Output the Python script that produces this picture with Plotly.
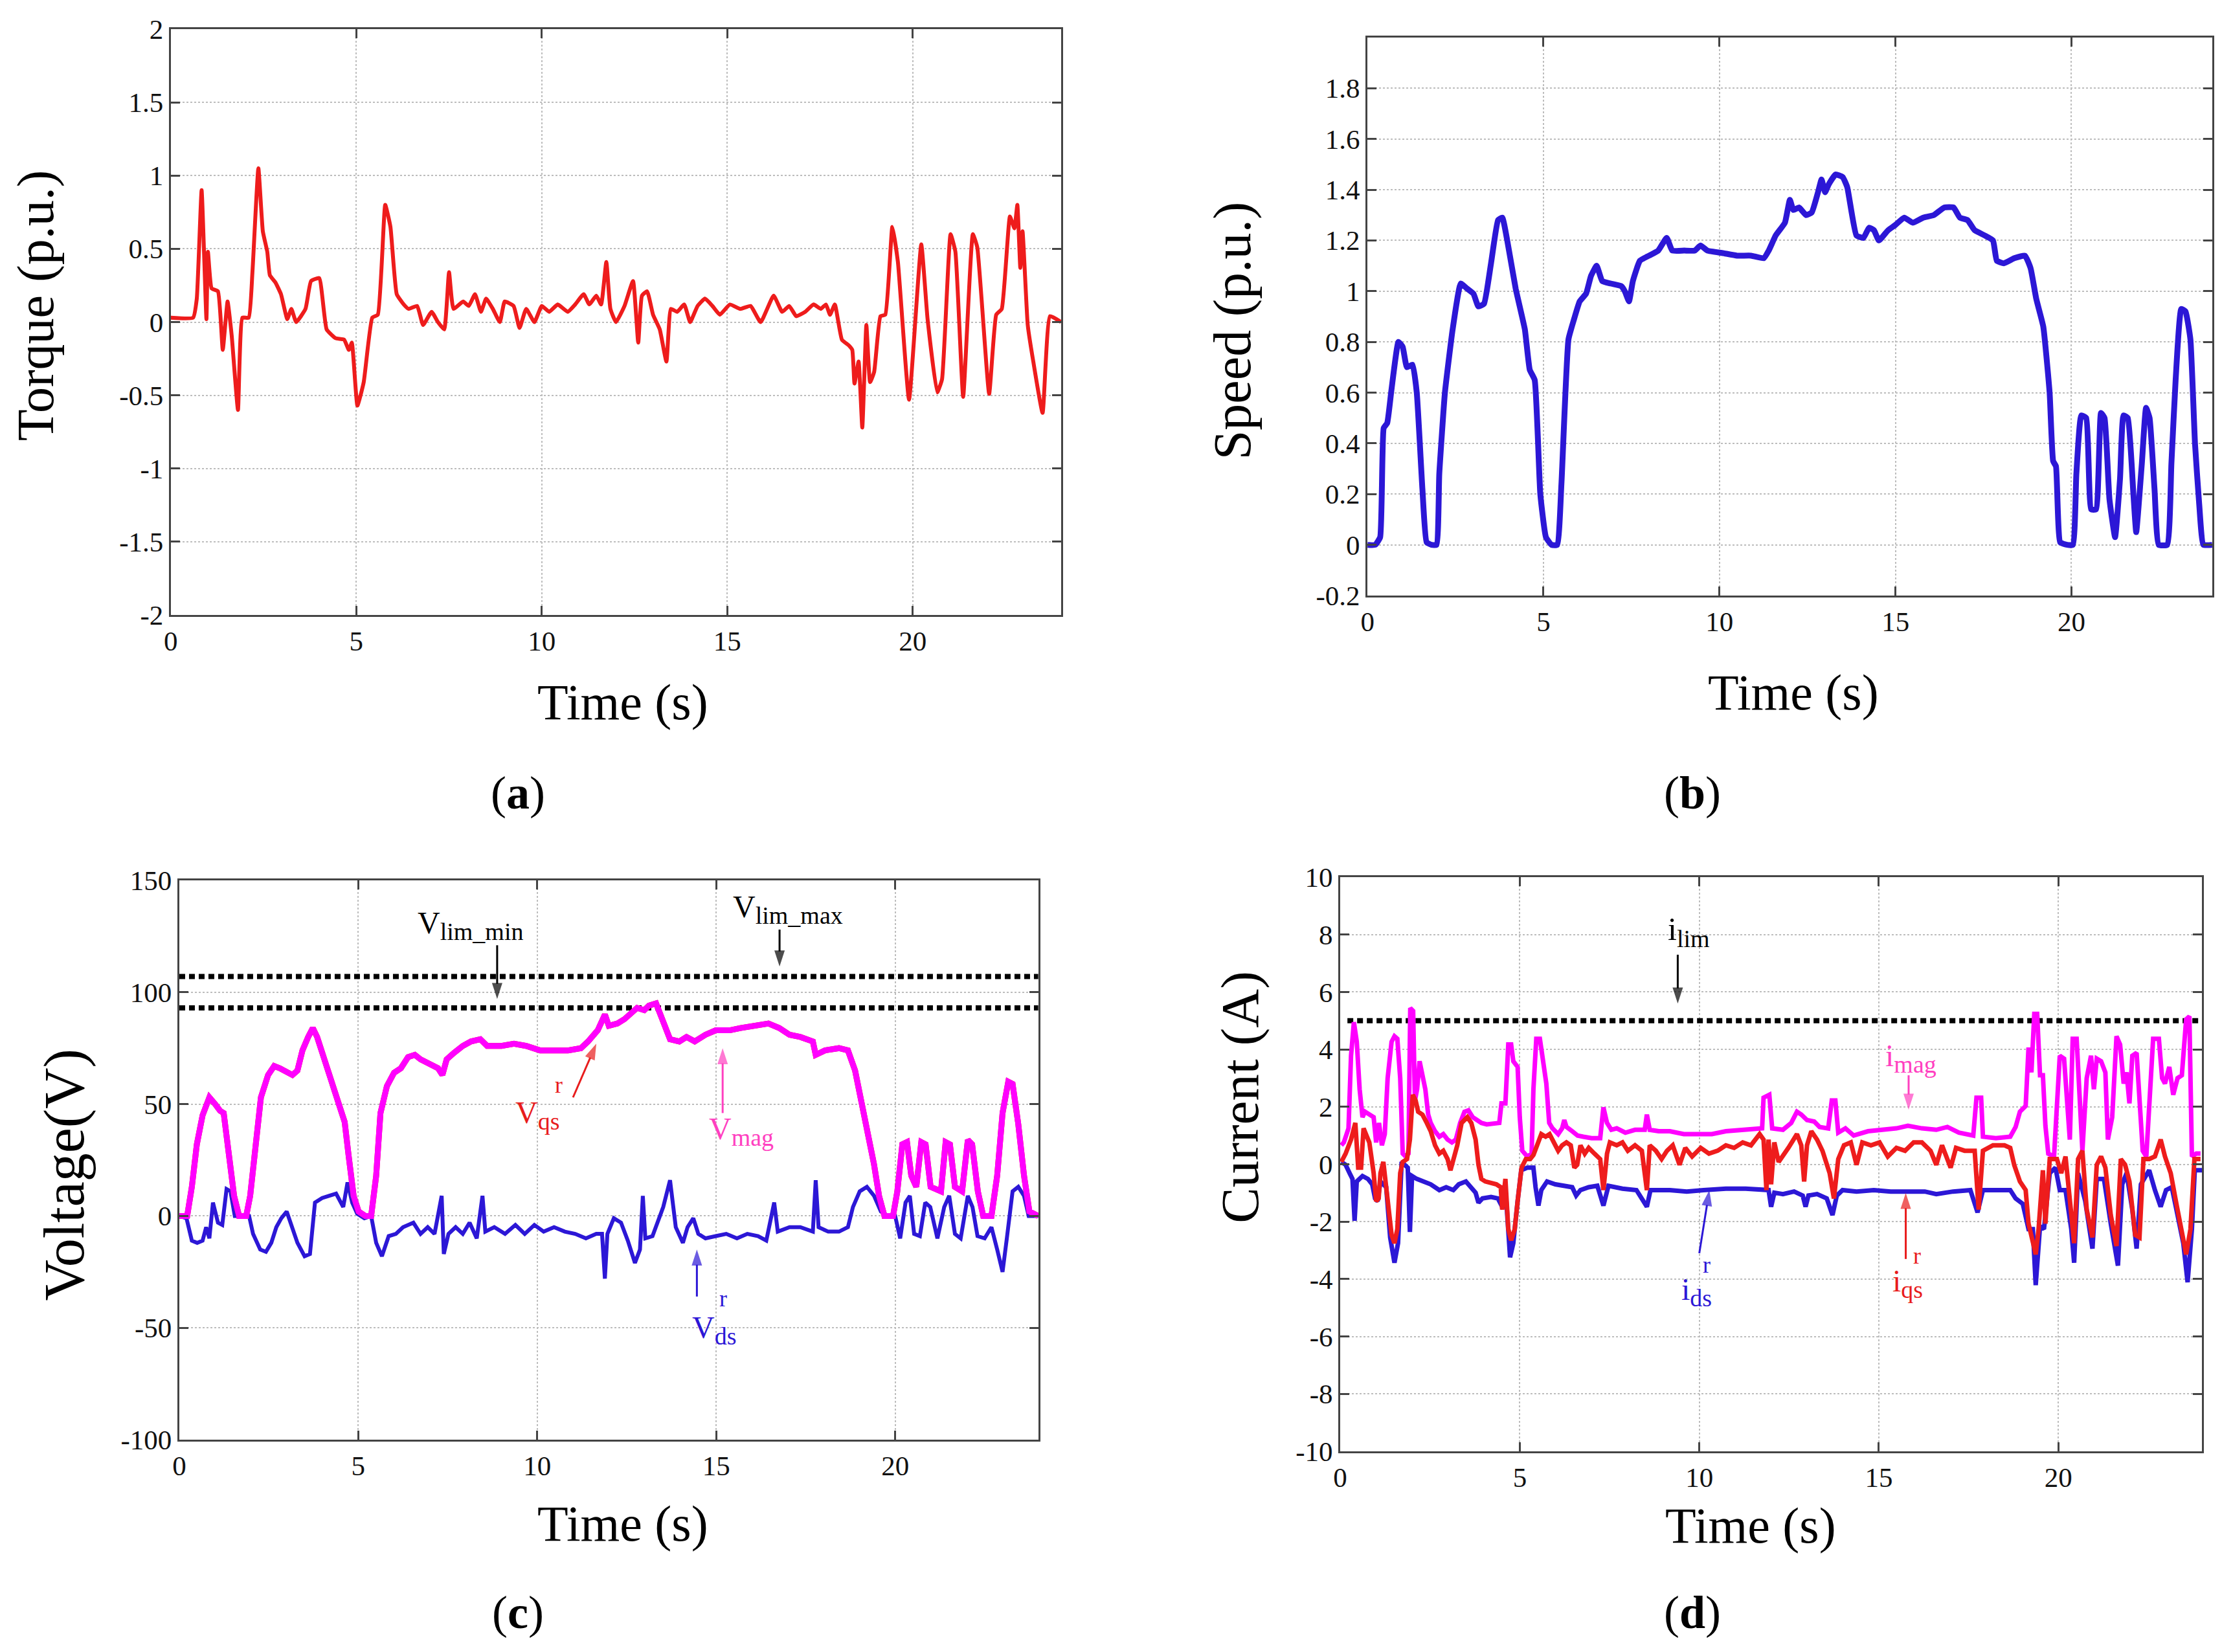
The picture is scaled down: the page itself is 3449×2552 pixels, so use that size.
import plotly.graph_objects as go

# ---------------- data ----------------
torque = [(0,0.03),(0.6,0.03),(0.7,0.16),(0.83,0.90),(0.96,0.02),(1.0,0.48),(1.1,0.23),(1.27,0.21),(1.4,-0.19),
 (1.53,0.14),(1.64,-0.09),(1.81,-0.60),(1.93,0.03),(2.1,0.03),(2.2,0.34),(2.36,1.05),(2.48,0.62),(2.6,0.48),
 (2.67,0.32),(2.82,0.27),(2.97,0.19),(3.14,0.02),(3.25,0.09),(3.38,0.0),(3.63,0.09),(3.78,0.28),(4.0,0.30),
 (4.2,-0.05),(4.44,-0.11),(4.67,-0.12),(4.8,-0.19),(4.88,-0.14),(5.03,-0.57),(5.2,-0.41),(5.43,0.03),(5.58,0.05),
 (5.78,0.80),(5.92,0.65),(6.09,0.19),(6.28,0.12),(6.41,0.09),(6.64,0.11),(6.8,-0.02),(7.03,0.07),(7.2,0.0),
 (7.37,-0.05),(7.5,0.34),(7.62,0.09),(7.88,0.14),(8.03,0.11),(8.2,0.19),(8.36,0.07),(8.5,0.16),(8.68,0.09),
 (8.87,0.0),(9.0,0.14),(9.24,0.11),(9.4,-0.04),(9.58,0.09),(9.8,0.0),(10.0,0.11),(10.2,0.07),(10.43,0.12),
 (10.7,0.07),(10.9,0.12),(11.13,0.19),(11.28,0.12),(11.47,0.18),(11.6,0.12),(11.74,0.41),(11.85,0.09),(12.0,0.0),
 (12.23,0.11),(12.46,0.28),(12.6,-0.14),(12.7,0.18),(12.84,0.21),(13.0,0.05),(13.18,-0.05),(13.36,-0.27),
 (13.48,0.09),(13.65,0.07),(13.84,0.12),(14.0,0.0),(14.2,0.11),(14.4,0.16),(14.6,0.11),(14.8,0.05),(15.07,0.12),
 (15.35,0.09),(15.63,0.11),(15.9,0.0),(16.25,0.18),(16.48,0.07),(16.67,0.11),(16.86,0.04),(17.1,0.07),(17.33,0.12),
 (17.52,0.09),(17.66,0.12),(17.77,0.05),(17.9,0.12),(18.09,-0.12),(18.28,-0.16),(18.37,-0.19),(18.43,-0.42),
 (18.54,-0.27),(18.64,-0.72),(18.75,-0.02),(18.85,-0.41),(18.96,-0.34),(19.13,0.04),(19.26,0.05),(19.45,0.65),
 (19.6,0.41),(19.9,-0.53),(20.23,0.53),(20.4,0.02),(20.66,-0.48),(20.79,-0.39),(21.02,0.60),(21.15,0.48),
 (21.36,-0.51),(21.62,0.60),(21.74,0.51),(22.06,-0.49),(22.25,0.05),(22.4,0.09),(22.62,0.72),(22.74,0.64),
 (22.82,0.80),(22.9,0.37),(22.96,0.62),(23.1,-0.02),(23.25,-0.27),(23.5,-0.62),(23.7,0.04),(24.0,0.0)]

speed = [(0,0),(0.22,0),(0.36,0.03),(0.46,0.46),(0.56,0.48),(0.68,0.61),(0.88,0.80),(1.0,0.78),(1.12,0.70),
 (1.28,0.71),(1.4,0.60),(1.56,0.22),(1.68,0.01),(1.82,0),(1.96,0),(2.04,0.28),(2.2,0.60),(2.42,0.85),(2.65,1.03),
 (2.83,1.01),(3.01,0.99),(3.15,0.94),(3.31,0.95),(3.51,1.11),(3.71,1.28),(3.83,1.29),(3.97,1.20),(4.21,1.01),
 (4.47,0.85),(4.61,0.69),(4.75,0.65),(4.91,0.20),(5.07,0.03),(5.23,0),(5.39,0),(5.51,0.24),(5.71,0.81),(5.87,0.89),
 (6.03,0.96),(6.21,0.99),(6.35,1.06),(6.51,1.10),(6.67,1.04),(6.91,1.03),(7.21,1.02),(7.31,1.0),(7.43,0.96),
 (7.54,1.04),(7.74,1.12),(8.0,1.14),(8.26,1.16),(8.5,1.21),(8.66,1.16),(9.0,1.16),(9.3,1.16),(9.46,1.18),
 (9.66,1.16),(10.1,1.15),(10.5,1.14),(10.9,1.14),(11.26,1.13),(11.4,1.16),(11.6,1.22),(11.86,1.27),(12.0,1.36),
 (12.1,1.32),(12.26,1.33),(12.46,1.30),(12.62,1.31),(12.8,1.39),(12.9,1.44),(13.0,1.39),(13.1,1.42),(13.3,1.46),
 (13.5,1.45),(13.63,1.41),(13.89,1.22),(14.09,1.21),(14.25,1.25),(14.39,1.24),(14.53,1.20),(14.79,1.24),
 (14.99,1.26),(15.25,1.29),(15.49,1.27),(15.79,1.29),(16.09,1.30),(16.39,1.33),(16.65,1.33),(16.83,1.29),
 (17.05,1.28),(17.25,1.24),(17.53,1.22),(17.77,1.20),(17.88,1.12),(18.08,1.11),(18.38,1.13),(18.68,1.14),
 (18.84,1.09),(19.0,0.97),(19.2,0.86),(19.38,0.60),(19.48,0.33),(19.56,0.31),(19.68,0.01),(19.88,0),(20.04,0),
 (20.14,0.28),(20.28,0.51),(20.42,0.50),(20.56,0.14),(20.7,0.14),(20.84,0.52),(20.94,0.50),(21.08,0.18),
 (21.24,0.03),(21.38,0.26),(21.48,0.51),(21.6,0.50),(21.76,0.20),(21.84,0.05),(22.0,0.32),(22.12,0.54),
 (22.22,0.50),(22.36,0.22),(22.48,0),(22.72,0),(22.84,0.32),(22.96,0.65),(23.12,0.93),(23.24,0.92),(23.38,0.81),
 (23.51,0.40),(23.63,0.16),(23.75,0),(24.0,0)]

v_mag = [(0,0),(0.22,0),(0.35,13),(0.49,32),(0.65,45),(0.84,53),(1.0,50),(1.14,47),(1.24,46),(1.34,32),(1.53,9),
 (1.67,0),(1.87,0),(1.98,9),(2.12,32),(2.28,53),(2.48,63),(2.65,67),(2.81,66),(3.0,64),(3.16,63),(3.3,65),(3.44,74),
 (3.6,80),(3.73,84),(3.85,80),(4.03,71),(4.22,60),(4.42,51),(4.62,42),(4.73,27),(4.87,9),(5.01,2),(5.2,0),(5.36,0),
 (5.5,18),(5.62,46),(5.8,58),(6.0,64),(6.19,66),(6.39,71),(6.58,72),(6.74,70),(6.97,68),(7.23,66),(7.35,63),
 (7.47,70),(7.68,73),(7.92,76),(8.15,78),(8.41,79),(8.6,76),(9.0,76),(9.35,77),(9.69,76),(10.08,74),(10.47,74),
 (10.86,74),(11.22,75),(11.42,78),(11.69,83),(11.89,90),(12.0,85),(12.24,86),(12.44,88),(12.63,91),(12.79,93),
 (12.99,92),(13.12,94),(13.32,95),(13.52,86),(13.71,79),(13.97,78),(14.17,80),(14.4,78),(14.7,81),(14.99,83),
 (15.38,83),(15.68,84),(16.07,85),(16.46,86),(16.76,84),(17.05,81),(17.35,80),(17.7,78),(17.78,72),(18.04,74),
 (18.43,75),(18.68,74),(18.88,65),(19.08,49),(19.27,37),(19.41,23),(19.55,9),(19.7,0),(19.94,0),(20.06,11),
 (20.2,32),(20.33,33),(20.45,18),(20.59,13),(20.73,33),(20.85,32),(20.99,13),(21.28,11),(21.41,33),(21.53,32),
 (21.67,13),(21.87,11),(22.03,34),(22.15,32),(22.31,11),(22.46,0),(22.69,0),(22.85,18),(23.0,46),(23.16,60),
 (23.28,59),(23.44,41),(23.6,18),(23.75,2),(24.0,0)]

v_ds = [(0,0),(0.2,-1),(0.35,-11),(0.5,-12),(0.65,-11),(0.75,-5),(0.84,-10),(0.94,6),(1.08,-3),(1.2,-4),(1.32,12),
 (1.43,11),(1.55,0),(1.73,0),(1.95,0),(2.06,-8),(2.26,-15),(2.42,-16),(2.57,-12),(2.71,-5),(2.85,-1),(3.0,2),
 (3.16,-5),(3.3,-12),(3.5,-18),(3.65,-17),(3.79,6),(3.99,8),(4.18,9),(4.38,10),(4.58,4),(4.7,15),(4.83,6),(4.97,1),
 (5.17,-1),(5.36,0),(5.5,-12),(5.66,-18),(5.85,-9),(6.05,-8),(6.25,-5),(6.54,-3),(6.74,-8),(6.94,-5),(7.13,-8),
 (7.33,9),(7.39,-17),(7.52,-8),(7.72,-5),(7.92,-8),(8.11,-3),(8.31,-10),(8.47,9),(8.55,-7),(8.8,-5),(9.1,-8),
 (9.39,-4),(9.65,-8),(9.92,-4),(10.18,-7),(10.47,-5),(10.77,-7),(11.06,-8),(11.36,-10),(11.65,-8),(11.81,-8),
 (11.89,-28),(11.96,-8),(12.14,-1),(12.34,-3),(12.53,-11),(12.73,-21),(12.87,-15),(12.95,9),(13.02,-10),
 (13.22,-9),(13.52,4),(13.71,16),(13.87,-5),(14.07,-12),(14.2,-5),(14.36,-1),(14.5,-8),(14.7,-10),(14.99,-9),
 (15.28,-8),(15.58,-10),(15.87,-8),(16.17,-9),(16.4,-11),(16.62,6),(16.72,-7),(17.05,-5),(17.35,-5),(17.7,-7),
 (17.78,16),(17.86,-5),(18.13,-7),(18.43,-7),(18.68,-5),(18.82,4),(19.01,11),(19.21,13),(19.41,9),(19.6,2),
 (19.8,0),(20.0,0),(20.14,-10),(20.29,6),(20.41,9),(20.53,-8),(20.69,-9),(20.84,6),(20.98,4),(21.18,-10),
 (21.37,4),(21.51,9),(21.67,-8),(21.83,-10),(22.03,9),(22.16,4),(22.3,-9),(22.5,-10),(22.69,-5),(22.85,-15),
 (23.0,-25),(23.12,-10),(23.28,11),(23.44,13),(23.6,9),(23.73,0),(24.0,0)]

v_lim_max = 107
v_lim_min = 93
i_lim = 5

i_mag = [(0.03,0.66),(0.1,0.76),(0.23,1.25),(0.3,3.78),(0.38,4.95),(0.46,4.27),(0.54,2.61),(0.62,1.64),(0.69,1.83),
 (0.81,1.73),(0.93,1.64),(1.0,0.76),(1.08,1.44),(1.16,0.66),(1.24,1.05),(1.32,3.0),(1.43,4.27),(1.51,4.46),
 (1.59,4.37),(1.67,3.0),(1.74,0.37),(1.82,0.27),(1.9,0.37),(1.95,5.44),(2.03,5.34),(2.08,2.22),(2.14,2.61),
 (2.21,3.59),(2.29,3.0),(2.37,2.61),(2.45,1.73),(2.52,1.44),(2.64,1.15),(2.76,0.96),(2.87,1.05),(2.99,0.86),
 (3.11,0.76),(3.22,0.86),(3.34,1.44),(3.46,1.83),(3.57,1.88),(3.69,1.64),(3.81,1.54),(3.93,1.44),(4.08,1.39),
 (4.28,1.44),(4.43,1.44),(4.49,2.12),(4.6,2.12),(4.68,4.17),(4.76,4.17),(4.82,3.59),(4.94,3.39),(5.0,1.64),
 (5.07,0.47),(5.21,0.27),(5.33,0.37),(5.38,2.61),(5.46,4.37),(5.56,4.37),(5.64,3.78),(5.74,2.81),(5.82,1.44),
 (5.91,1.25),(6.07,1.05),(6.18,1.25),(6.24,1.54),(6.3,1.30),(6.46,1.15),(6.61,1.0),(6.77,0.96),(7.0,0.91),
 (7.24,0.91),(7.33,1.98),(7.43,1.44),(7.55,1.2),(7.7,1.25),(7.94,1.10),(8.21,1.2),(8.48,1.2),(8.54,1.73),
 (8.62,1.2),(8.87,1.15),(9.18,1.15),(9.57,1.05),(9.96,1.05),(10.35,1.05),(10.74,1.15),(11.13,1.2),(11.52,1.25),
 (11.75,1.25),(11.79,2.32),(11.95,2.42),(12.03,1.25),(12.33,1.2),(12.56,1.44),(12.72,1.83),(12.84,1.73),
 (13.0,1.54),(13.2,1.49),(13.35,1.30),(13.59,1.25),(13.69,2.22),(13.79,2.22),(13.87,1.10),(14.07,1.25),
 (14.3,1.0),(14.7,1.15),(15.09,1.2),(15.49,1.25),(15.81,1.34),(16.2,1.25),(16.6,1.2),(16.91,1.30),(17.23,1.10),
 (17.63,1.0),(17.72,2.32),(17.85,2.32),(17.9,0.96),(18.26,0.91),(18.66,0.96),(18.81,1.30),(18.93,1.83),
 (19.09,2.03),(19.17,4.07),(19.25,3.2),(19.33,5.24),(19.41,5.24),(19.49,3.1),(19.57,3.1),(19.64,1.34),
 (19.72,0.37),(19.88,0.27),(19.96,2.42),(20.04,3.78),(20.16,3.68),(20.24,2.42),(20.32,0.86),(20.4,4.37),
 (20.51,4.37),(20.59,2.42),(20.67,0.47),(20.79,3.0),(20.91,3.78),(20.99,2.61),(21.07,3.68),(21.19,3.59),
 (21.31,3.2),(21.38,0.86),(21.5,1.64),(21.62,4.46),(21.72,4.17),(21.82,2.81),(21.9,3.2),(21.98,2.12),
 (22.06,3.78),(22.18,3.88),(22.25,2.22),(22.35,0.47),(22.45,0.27),(22.54,2.03),(22.64,4.37),(22.8,4.37),
 (22.89,3.0),(22.97,2.81),(23.09,3.39),(23.2,2.42),(23.32,3.0),(23.44,3.1),(23.56,5.05),(23.65,5.15),
 (23.72,0.27),(23.84,0.37),(23.96,0.37)]

i_qs = [(0.03,0.08),(0.15,0.37),(0.3,0.86),(0.42,1.44),(0.5,-0.12),(0.58,-0.12),(0.65,1.25),(0.81,0.76),
 (0.93,-0.31),(1.0,-1.29),(1.07,-1.19),(1.12,-0.31),(1.2,0.08),(1.28,-0.8),(1.36,-1.77),(1.43,-2.46),(1.51,-2.75),
 (1.59,-2.26),(1.67,-0.31),(1.74,0.08),(1.86,0.18),(1.94,0.86),(2.02,2.42),(2.1,2.22),(2.17,1.83),(2.29,1.73),
 (2.41,1.44),(2.52,1.15),(2.64,0.66),(2.76,0.37),(2.87,0.47),(2.99,0.18),(3.07,-0.21),(3.15,0.18),(3.26,0.66),
 (3.38,1.44),(3.54,1.64),(3.65,1.44),(3.77,0.86),(3.85,-0.02),(3.93,-0.51),(4.04,-0.6),(4.2,-0.65),(4.35,-0.70),
 (4.47,-0.8),(4.51,-1.58),(4.6,-0.51),(4.68,-2.26),(4.76,-2.65),(4.86,-2.26),(4.94,-1.29),(5.05,-0.12),
 (5.17,0.18),(5.29,0.18),(5.38,0.32),(5.48,0.66),(5.6,1.05),(5.72,0.96),(5.83,1.05),(5.95,0.76),(6.07,0.47),
 (6.18,0.66),(6.3,0.76),(6.42,0.66),(6.52,-0.12),(6.6,-0.02),(6.69,0.66),(6.81,0.37),(6.92,0.57),(7.08,0.37),
 (7.24,0.18),(7.33,-0.9),(7.43,0.37),(7.51,0.76),(7.7,0.66),(7.86,0.76),(8.01,0.47),(8.21,0.66),(8.4,0.47),
 (8.54,-0.9),(8.62,0.66),(8.79,0.47),(8.95,0.18),(9.1,0.47),(9.26,0.66),(9.45,-0.02),(9.61,0.57),(9.8,0.27),
 (10.04,0.57),(10.27,0.37),(10.51,0.47),(10.74,0.66),(10.97,0.57),(11.21,0.76),(11.44,0.66),(11.68,1.05),
 (11.79,0.86),(11.87,-0.9),(11.93,0.86),(12.0,-0.7),(12.09,0.76),(12.21,0.08),(12.33,0.27),(12.48,0.57),
 (12.72,1.05),(12.84,0.66),(12.92,-0.6),(13.0,0.66),(13.12,1.15),(13.28,0.86),(13.43,0.47),(13.63,-0.31),
 (13.75,-1.19),(13.87,0.18),(14.03,0.66),(14.22,0.76),(14.38,-0.02),(14.54,0.76),(14.78,0.66),(15.02,0.76),
 (15.25,0.27),(15.49,0.57),(15.73,0.47),(15.97,0.76),(16.2,0.76),(16.44,0.47),(16.6,-0.02),(16.76,0.66),
 (17.0,-0.12),(17.15,0.57),(17.39,0.47),(17.67,0.47),(17.78,-1.58),(17.9,0.47),(18.18,0.66),(18.5,0.66),
 (18.66,0.57),(18.77,-0.02),(18.93,-0.6),(19.09,-0.9),(19.17,-2.07),(19.29,-2.75),(19.37,-3.14),(19.45,-2.26),
 (19.57,-0.21),(19.64,-2.07),(19.76,0.18),(19.96,0.18),(20.08,-0.31),(20.2,0.27),(20.32,-1.29),(20.44,-2.75),
 (20.55,0.18),(20.67,0.47),(20.79,-1.58),(20.95,-2.55),(21.07,-0.02),(21.19,0.27),(21.31,-0.12),(21.46,-1.77),
 (21.62,-2.85),(21.74,0.18),(21.86,-0.02),(21.98,-0.6),(22.14,-2.46),(22.26,-2.55),(22.37,0.18),(22.53,0.18),
 (22.69,0.27),(22.85,0.86),(22.97,0.27),(23.13,-0.31),(23.29,-1.39),(23.45,-2.36),(23.56,-3.14),(23.68,-2.26),
 (23.79,0.18),(23.96,0.18)]

i_ds = [(0.03,0.08),(0.15,-0.02),(0.26,-0.31),(0.34,-0.51),(0.4,-1.97),(0.46,-0.6),(0.62,-0.41),(0.77,-0.51),
 (0.89,-0.7),(0.97,-1.19),(1.04,-1.29),(1.12,-0.6),(1.28,-0.8),(1.39,-2.55),(1.51,-3.43),(1.61,-2.75),(1.71,0.08),
 (1.88,-0.12),(1.94,-2.36),(2.0,-0.41),(2.13,-0.51),(2.33,-0.6),(2.52,-0.7),(2.76,-0.9),(2.95,-0.8),(3.15,-0.9),
 (3.3,-0.7),(3.5,-0.6),(3.65,-0.8),(3.77,-0.99),(3.85,-1.34),(3.96,-1.19),(4.2,-1.14),(4.39,-1.19),(4.51,-1.48),
 (4.63,-1.38),(4.73,-3.24),(4.82,-2.75),(4.94,-1.29),(5.04,-0.21),(5.21,-0.12),(5.38,-0.12),(5.44,-0.8),
 (5.52,-1.44),(5.6,-0.9),(5.76,-0.6),(5.99,-0.7),(6.22,-0.75),(6.46,-0.8),(6.57,-1.09),(6.69,-0.9),(6.92,-0.8),
 (7.16,-0.75),(7.33,-1.44),(7.47,-0.75),(7.86,-0.85),(8.25,-0.9),(8.54,-1.48),(8.64,-0.9),(9.18,-0.9),
 (9.65,-0.95),(10.12,-0.9),(10.74,-0.85),(11.29,-0.85),(11.68,-0.9),(11.93,-0.9),(12.0,-1.48),(12.09,-0.99),
 (12.33,-1.04),(12.64,-0.95),(12.88,-1.09),(12.96,-1.48),(13.04,-1.09),(13.28,-1.04),(13.55,-1.19),(13.71,-1.77),
 (13.83,-1.09),(13.99,-0.9),(14.38,-0.95),(14.86,-0.9),(15.33,-0.95),(15.81,-0.95),(16.28,-0.95),(16.6,-1.04),
 (17.07,-0.95),(17.55,-0.9),(17.75,-1.68),(17.9,-0.9),(18.26,-0.9),(18.66,-0.9),(18.81,-1.19),(19.01,-1.38),
 (19.17,-2.26),(19.29,-2.26),(19.37,-4.21),(19.49,-2.16),(19.6,-2.26),(19.76,-0.31),(19.92,-0.12),(20.04,-0.9),
 (20.2,-0.9),(20.36,-2.26),(20.44,-3.43),(20.55,-0.31),(20.75,-1.29),(20.95,-2.94),(21.07,-0.51),(21.27,-0.51),
 (21.46,-2.07),(21.66,-3.53),(21.78,-0.7),(21.9,-0.31),(22.06,-1.58),(22.18,-2.94),(22.3,-0.7),(22.53,-0.21),
 (22.69,-0.9),(22.85,-1.48),(23.0,-0.9),(23.16,-0.8),(23.32,-1.77),(23.48,-2.75),(23.6,-4.11),(23.72,-2.26),
 (23.8,-0.21),(24.0,-0.21)]

x_ticks = [0, 5, 10, 15, 20]
torque_ticks = [-2, -1.5, -1, -0.5, 0, 0.5, 1, 1.5, 2]
speed_ticks = [-0.2, 0, 0.2, 0.4, 0.6, 0.8, 1, 1.2, 1.4, 1.6, 1.8]
volt_ticks = [-100, -50, 0, 50, 100, 150]
curr_ticks = [-10, -8, -6, -4, -2, 0, 2, 4, 6, 8, 10]

def split(pairs):
    return [p[0] for p in pairs], [p[1] for p in pairs]

def lab(v):
    return '%g' % v

SERIF = "Liberation Serif"
RED = "#ee1c1c"
BLUE = "#2c17d6"
MAG = "#ff00ff"
PINK = "#ff40c0"

fig = go.Figure()

# (a) torque
t, v = split(torque)
fig.add_trace(go.Scatter(x=t, y=v, mode="lines", line=dict(color=RED, width=6, shape="spline", smoothing=0.4),
                         xaxis="x", yaxis="y"))
# (b) speed
t, v = split(speed)
fig.add_trace(go.Scatter(x=t, y=v, mode="lines", line=dict(color=BLUE, width=9, shape="spline", smoothing=0.4),
                         xaxis="x2", yaxis="y2"))
# (c) voltage
LIMDASH = "9px,6px"
fig.add_trace(go.Scatter(x=[0, 24], y=[v_lim_max, v_lim_max], mode="lines",
                         line=dict(color="black", width=8, dash=LIMDASH), xaxis="x3", yaxis="y3"))
fig.add_trace(go.Scatter(x=[0, 24], y=[v_lim_min, v_lim_min], mode="lines",
                         line=dict(color="black", width=8, dash=LIMDASH), xaxis="x3", yaxis="y3"))
t, v = split(v_ds)
fig.add_trace(go.Scatter(x=t, y=v, mode="lines", line=dict(color=BLUE, width=6), xaxis="x3", yaxis="y3"))
t, v = split(v_mag)
fig.add_trace(go.Scatter(x=t, y=v, mode="lines", line=dict(color=RED, width=9), xaxis="x3", yaxis="y3"))
fig.add_trace(go.Scatter(x=t, y=v, mode="lines", line=dict(color=MAG, width=9), xaxis="x3", yaxis="y3"))
# (d) current
fig.add_trace(go.Scatter(x=[0.2, 24], y=[i_lim, i_lim], mode="lines",
                         line=dict(color="black", width=8, dash=LIMDASH), xaxis="x4", yaxis="y4"))
t, v = split(i_mag)
fig.add_trace(go.Scatter(x=t, y=v, mode="lines", line=dict(color=MAG, width=7), xaxis="x4", yaxis="y4"))
t, v = split(i_ds)
fig.add_trace(go.Scatter(x=t, y=v, mode="lines", line=dict(color=BLUE, width=7), xaxis="x4", yaxis="y4"))
t, v = split(i_qs)
fig.add_trace(go.Scatter(x=t, y=v, mode="lines", line=dict(color=RED, width=7), xaxis="x4", yaxis="y4"))

def axstyle():
    return dict(showline=True, linecolor="#444", linewidth=3, mirror="ticks",
                ticks="inside", ticklen=14, tickwidth=3, tickcolor="#444",
                showgrid=True, gridcolor="#bdbdbd", gridwidth=2, griddash="dot",
                zeroline=False, automargin=False,
                tickfont=dict(family=SERIF, size=43, color="#111"))

def xax(domain, anchor):
    d = dict(domain=domain, anchor=anchor, range=[0, 24], tickvals=x_ticks,
             ticktext=[lab(x) for x in x_ticks])
    d.update(axstyle())
    return d

def yax(domain, anchor, rng, ticks):
    d = dict(domain=domain, anchor=anchor, range=rng, tickvals=ticks,
             ticktext=[lab(x) for x in ticks])
    d.update(axstyle())
    return d

A = dict(xd=[0.0765, 0.4752], yd=[0.6277, 0.9824])
B = dict(xd=[0.6124, 0.9907], yd=[0.6395, 0.9773])
C = dict(xd=[0.0803, 0.4650], yd=[0.1285, 0.4671])
D = dict(xd=[0.6002, 0.9861], yd=[0.1215, 0.4690])

annotations = []

def ptext(x, y, text, size, angle=0, color="black", xref="paper", yref="paper"):
    annotations.append(dict(x=x, y=y, xref=xref, yref=yref, text=text, showarrow=False,
                            textangle=angle, font=dict(family=SERIF, size=size, color=color),
                            xanchor="center", yanchor="middle"))

def arrow(xa, ya, x0, y0, x1, y1, color):
    fig.add_trace(go.Scatter(x=[x0, x1], y=[y0, y1], mode="lines+markers",
                             line=dict(color=color, width=3),
                             marker=dict(symbol=["circle", "arrow"], size=[0, 26], color=color,
                                         angleref="previous", line=dict(width=0)),
                             xaxis=xa, yaxis=ya, hoverinfo="skip"))

def sub(base, s, size):
    return base + "<sub><span style='font-size:%dpx'>%s</span></sub>" % (size, s)

# axis titles & panel labels
ptext(0.016, 0.815, "Torque (p.u.)", 80, -90)
ptext(0.279, 0.575, "Time (s)", 78)
ptext(0.232, 0.520, "(<b>a</b>)", 72)
ptext(0.552, 0.800, "Speed (p.u.)", 82, -90)
ptext(0.803, 0.581, "Time (s)", 78)
ptext(0.758, 0.520, "(<b>b</b>)", 72)
ptext(0.0287, 0.289, "Voltage(V)", 88, -90)
ptext(0.279, 0.0776, "Time (s)", 78)
ptext(0.232, 0.024, "(<b>c</b>)", 72)
ptext(0.555, 0.336, "Current (A)", 83, -90)
ptext(0.784, 0.0767, "Time (s)", 78)
ptext(0.758, 0.024, "(<b>d</b>)", 72)

# (c) annotations
ptext(8.13, 130, sub("V", "lim_min", 38), 48, xref="x3", yref="y3")
arrow("x3", "y3", 8.88, 121, 8.88, 97, "black")
ptext(17.0, 137, sub("V", "lim_max", 38), 48, xref="x3", yref="y3")
arrow("x3", "y3", 16.77, 128, 16.77, 111.5, "black")
ptext(10.0, 45, sub("V", "qs", 38), 48, color="#e81c1c", xref="x3", yref="y3")
ptext(10.6, 58.5, "r", 36, color="#e81c1c", xref="x3", yref="y3")
arrow("x3", "y3", 11.0, 53, 11.65, 77, "#e81c1c")
ptext(15.7, 38, sub("V", "mag", 38), 48, color=PINK, xref="x3", yref="y3")
arrow("x3", "y3", 15.18, 46, 15.18, 75, PINK)
ptext(14.95, -51, sub("V", "ds", 38), 48, color=BLUE, xref="x3", yref="y3")
ptext(15.2, -37, "r", 36, color=BLUE, xref="x3", yref="y3")
arrow("x3", "y3", 14.46, -36, 14.46, -15, BLUE)

# (d) annotations
ptext(9.7, 8.1, sub("i", "lim", 38), 50, xref="x4", yref="y4")
arrow("x4", "y4", 9.4, 7.3, 9.4, 5.6, "black")
ptext(15.9, 3.7, sub("i", "mag", 38), 48, color=PINK, xref="x4", yref="y4")
arrow("x4", "y4", 15.83, 3.1, 15.83, 1.9, PINK)
ptext(15.8, -4.15, sub("i", "qs", 38), 48, color="#e81c1c", xref="x4", yref="y4")
ptext(16.07, -3.2, "r", 36, color="#e81c1c", xref="x4", yref="y4")
arrow("x4", "y4", 15.75, -3.3, 15.75, -1.0, "#e81c1c")
ptext(9.93, -4.45, sub("i", "ds", 38), 48, color=BLUE, xref="x4", yref="y4")
ptext(10.2, -3.5, "r", 36, color=BLUE, xref="x4", yref="y4")
arrow("x4", "y4", 10.0, -3.1, 10.28, -0.9, BLUE)

fig.update_layout(
    width=3449, height=2552, margin=dict(l=0, r=0, t=0, b=0, pad=0),
    paper_bgcolor="white", plot_bgcolor="white", showlegend=False,
    xaxis=xax(A["xd"], "y"), yaxis=yax(A["yd"], "x", [-2, 2], torque_ticks),
    xaxis2=xax(B["xd"], "y2"), yaxis2=yax(B["yd"], "x2", [-0.2, 2.0], speed_ticks),
    xaxis3=xax(C["xd"], "y3"), yaxis3=yax(C["yd"], "x3", [-100, 150], volt_ticks),
    xaxis4=xax(D["xd"], "y4"), yaxis4=yax(D["yd"], "x4", [-10, 10], curr_ticks),
    annotations=annotations,
)

fig.write_html("out.html", config={"displayModeBar": False},
               post_script="document.body.style.margin='0';document.body.style.overflow='hidden';")
